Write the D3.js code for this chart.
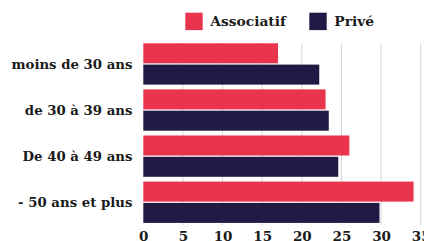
<!DOCTYPE html>
<html><head><meta charset="utf-8">
<script src="https://cdn.jsdelivr.net/npm/d3@7"></script>
<style>
html,body{margin:0;padding:0;background:#fff;overflow:hidden}
text{font-family:"DejaVu Serif",serif;font-weight:bold;fill:#1a1a1a}
</style></head>
<body><svg id="c" width="424" height="241"></svg>
<script>
const categories = ["moins de 30 ans","de 30 à 39 ans","De 40 à 49 ans","- 50 ans et plus"];
const seriesNames = ["Associatif","Privé"];
const associatif = [17.0, 23.0, 26.0, 34.1];
const prive = [22.2, 23.4, 24.6, 29.8];
const tickValues = [0,5,10,15,20,25,30,35];
const colors = ["#e8344d","#1f1b45"];

const svg = d3.select("#c");
const x = d3.scaleLinear().domain([0,35]).range([143.3,420.7]);
const y0 = d3.scaleBand().domain(categories).range([43.3,222.9]).paddingInner(0.104).paddingOuter(0);
const y1 = d3.scaleBand().domain(seriesNames).range([0,y0.bandwidth()]).paddingInner(0.06);

// gridlines
svg.append("g").selectAll("line").data(tickValues.slice(1)).join("line")
  .attr("x1",d=>x(d)).attr("x2",d=>x(d)).attr("y1",43).attr("y2",225)
  .attr("stroke","#d6d6d6").attr("stroke-width",1);

const data = categories.map((c,i)=>({c, vals:[associatif[i], prive[i]]}));
const g = svg.append("g").selectAll("g").data(data).join("g")
  .attr("transform",d=>`translate(0,${y0(d.c)})`);
g.selectAll("rect").data(d=>d.vals.map((v,j)=>({v,s:seriesNames[j],j}))).join("rect")
  .attr("x",x(0)).attr("y",d=>y1(d.s)).attr("width",d=>x(d.v)-x(0)).attr("height",y1.bandwidth())
  .attr("fill",d=>colors[d.j]);

// category labels
svg.append("g").selectAll("text").data(categories).join("text")
  .attr("x",132.5).attr("y",d=>y0(d)+y0.bandwidth()/2).attr("dy","0.35em")
  .attr("text-anchor","end").attr("font-size",13.3).text(d=>d);

// x axis
const xa = svg.append("g").attr("transform","translate(0,225)")
  .call(d3.axisBottom(x).tickValues(tickValues).tickSize(0).tickPadding(6));
xa.select(".domain").remove();
xa.selectAll("text").attr("font-size",13.5).attr("font-family","DejaVu Serif").attr("font-weight","bold").attr("fill","#1a1a1a");

// legend
const legX = [185.3, 309.3];
const lg = svg.append("g").selectAll("g").data(seriesNames).join("g")
  .attr("transform",(d,i)=>`translate(${legX[i]},12.7)`);
lg.append("rect").attr("width",17.4).attr("height",17.4).attr("fill",(d,i)=>colors[i]);
lg.append("text").attr("x",25).attr("y",8.7).attr("dy","0.35em").attr("font-size",13.8).text(d=>d);
</script></body></html>
